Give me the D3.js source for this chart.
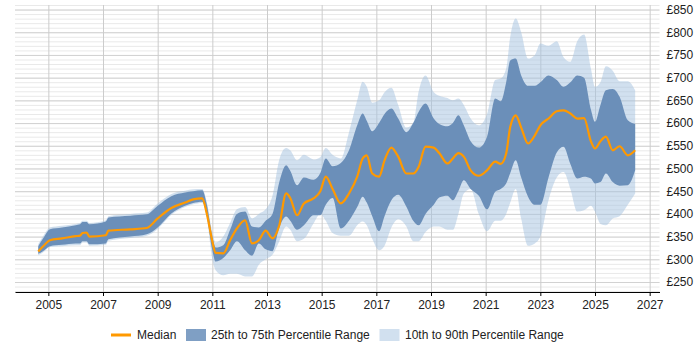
<!DOCTYPE html>
<html>
<head>
  <script src="https://d3js.org/d3.v7.min.js"></script>
  <style>
    body { margin: 0; background: #fff; }
    text { font-family: "Liberation Sans", Arial, sans-serif; }
    .gridlines .domain { display: none; }
    .minor line { stroke: #e9e9e9; }
    .major line { stroke: #d2d2d2; }
    .xgrid line { stroke: #cccccc; }
    .x.axis .domain, .x.axis line { stroke: #000; }
    .axis text { font-size: 12px; fill: #222; }
  </style>
</head>
<body>
  <svg id="chart" width="700" height="350"></svg>
  <script>
    // decimal years
    const dates = [2004.63, 2004.8, 2005.06, 2005.5, 2006.0, 2006.16, 2006.25, 2006.4, 2006.5, 2007.1,
      2007.2, 2008.0, 2008.6, 2009.0, 2009.5, 2010.0, 2010.3, 2010.63, 2010.8, 2011.0, 2011.12,
      2011.4, 2011.65, 2011.9, 2012.2, 2012.45, 2012.7, 2012.95, 2013.2, 2013.45, 2013.7,
      2013.85, 2014.1, 2014.35, 2014.7, 2014.95, 2015.15, 2015.4, 2015.7, 2016.0, 2016.3,
      2016.5, 2016.65, 2016.85, 2017.1, 2017.3, 2017.55, 2017.8, 2018.1, 2018.35, 2018.55,
      2018.8, 2019.1, 2019.3, 2019.6, 2019.8, 2020.0, 2020.2, 2020.45, 2020.75, 2021.05,
      2021.35, 2021.55, 2021.75, 2021.9, 2022.1, 2022.3, 2022.55, 2022.8, 2023.0, 2023.3,
      2023.6, 2023.85, 2024.1, 2024.35, 2024.6, 2024.85, 2025.0, 2025.2, 2025.4, 2025.65,
      2025.9, 2026.2, 2026.47];

    const median = [317, 328, 342, 346, 351, 352, 358, 359, 350, 353,
      363, 366, 369, 390, 413, 425, 432, 434, 400, 340, 314,
      313, 342, 368, 386, 335, 342, 363, 346, 375, 445,
      435, 397, 423, 434, 450, 482, 455, 423, 445, 482,
      522, 529, 489, 482, 518, 546, 526, 489, 489, 504,
      548, 546, 534, 511, 522, 534, 526, 496, 484, 496,
      515, 510, 533, 592, 617, 590, 555, 573, 595, 610,
      626, 628, 621, 610, 611, 560, 544, 560, 570, 540,
      549, 529, 540];

    const p25 = [312, 318, 329, 332, 335, 335, 340, 340, 333, 335,
      344, 350, 355, 370, 401, 418, 424, 427, 395, 320, 295,
      303, 320, 340, 320, 308, 335, 322, 318, 370, 394,
      385, 365, 375, 397, 397, 420, 435, 368, 385, 415,
      438, 425, 395, 362, 395, 430, 442, 416, 385, 375,
      400, 420, 436, 440, 430, 450, 474, 455, 440, 410,
      449, 455, 467, 490, 518, 480, 438, 420, 420, 480,
      535, 548, 510, 478, 482, 478, 467, 470, 489, 470,
      462, 463, 496];

    const p75 = [329, 345, 366, 370, 375, 377, 382, 382, 377, 383,
      392, 396, 399, 418, 439, 447, 450, 452, 420, 350, 326,
      331, 365, 400, 405, 372, 370, 385, 400, 470, 507,
      495, 463, 480, 475, 490, 522, 505, 512, 540, 595,
      621, 605, 582, 600, 620, 632, 610, 580, 600, 625,
      643, 610, 598, 593, 600, 617, 595, 560, 546, 570,
      654, 648, 690, 738, 742, 705, 682, 682, 690, 705,
      695, 680, 690, 705, 700, 630, 603, 640, 672, 675,
      658, 606, 598];

    const p10 = [309, 315, 327, 329, 331, 331, 337, 337, 330, 332,
      341, 347, 352, 367, 398, 415, 421, 424, 390, 300, 276,
      265, 268, 268, 262, 262, 288, 300, 310, 340, 372,
      365, 340, 345, 379, 400, 385, 358, 352, 352, 375,
      383, 375, 345, 320, 330, 370, 388, 372, 340, 340,
      360, 372, 372, 365, 365, 400, 445, 455, 400, 362,
      385, 385, 400, 425, 455, 390, 330, 335, 350, 430,
      480, 492, 455, 405, 408, 418, 405, 378, 375, 390,
      395, 420, 445];

    const p90 = [333, 350, 370, 374, 378, 380, 385, 385, 380, 386,
      395, 400, 403, 423, 444, 451, 454, 455, 425, 360, 337,
      350, 380, 410, 415, 390, 400, 410, 440, 520, 545,
      540, 518, 530, 520, 525, 545, 530, 522, 580, 650,
      691, 680, 645, 650, 668, 678, 640, 590, 600, 670,
      705, 668, 660, 655, 650, 654, 640, 610, 595, 620,
      695, 698, 720, 790, 830, 800, 742, 750, 775, 770,
      780, 745, 735, 780, 795, 720, 680, 690, 725, 715,
      692, 692, 672];

    const yearTicks = [2005, 2007, 2009, 2011, 2013, 2015, 2017, 2019, 2021, 2023, 2025, 2027];
    const payTicks = [250, 300, 350, 400, 450, 500, 550, 600, 650, 700, 750, 800, 850];
    const legendLabels = ["Median", "25th to 75th Percentile Range", "10th to 90th Percentile Range"];

    const rows = dates.map((d, i) => ({
      year: d, median: median[i], p10: p10[i], p25: p25[i], p75: p75[i], p90: p90[i]
    }));

    const margin = { top: 5, right: 40.5, bottom: 58, left: 15 };
    const chartWidth = 700 - margin.left - margin.right;
    const chartHeight = 350 - margin.top - margin.bottom;

    const xScale = d3.scaleLinear().domain([2003.78, 2027.36]).range([0, chartWidth]);
    const yScale = d3.scaleLinear().domain([228, 860]).range([chartHeight, 0]);

    const svg = d3.select("svg#chart");
    const g = svg.append("g").attr("transform", `translate(${margin.left},${margin.top})`);

    // minor + major horizontal gridlines
    g.append("g").attr("class", "gridlines minor")
      .call(d3.axisLeft(yScale).tickValues(d3.range(230, 861, 10)).tickSize(-chartWidth).tickFormat(""));
    g.append("g").attr("class", "gridlines major")
      .call(d3.axisLeft(yScale).tickValues(payTicks).tickSize(-chartWidth).tickFormat(""));
    g.append("g").attr("class", "gridlines xgrid")
      .attr("transform", `translate(0,${chartHeight})`)
      .call(d3.axisBottom(xScale).tickValues(yearTicks).tickSize(-chartHeight).tickFormat(""));

    const outerArea = d3.area()
      .x(d => xScale(d.year))
      .y0(d => yScale(d.p10))
      .y1(d => yScale(d.p90))
      .curve(d3.curveMonotoneX);
    const innerArea = d3.area()
      .x(d => xScale(d.year))
      .y0(d => yScale(d.p25))
      .y1(d => yScale(d.p75))
      .curve(d3.curveMonotoneX);
    const medianLine = d3.line()
      .x(d => xScale(d.year))
      .y(d => yScale(d.median))
      .curve(d3.curveMonotoneX);

    g.append("path").datum(rows)
      .attr("d", outerArea)
      .attr("fill", "#a3c1e0")
      .attr("opacity", 0.5);
    g.append("path").datum(rows)
      .attr("d", innerArea)
      .attr("fill", "#6b8fb9");
    g.append("path").datum(rows)
      .attr("d", medianLine)
      .attr("fill", "none")
      .attr("stroke", "#ff9900")
      .attr("stroke-width", 2.2);

    g.append("g").attr("class", "x axis")
      .attr("transform", `translate(0,${chartHeight})`)
      .call(d3.axisBottom(xScale).tickValues(yearTicks).tickFormat(d3.format("d")).tickSize(4).tickPadding(4).tickSizeOuter(0));

    const rightAxis = g.append("g").attr("class", "y axis")
      .attr("transform", `translate(${chartWidth},0)`)
      .call(d3.axisRight(yScale).tickValues(payTicks).tickFormat(d => "£" + d).tickSize(0).tickPadding(7));
    rightAxis.select(".domain").remove();

    // legend
    const legend = svg.append("g").attr("transform", "translate(0,335)");
    legend.append("line")
      .attr("x1", 111).attr("x2", 131).attr("y1", 0).attr("y2", 0)
      .attr("stroke", "#ff9900").attr("stroke-width", 3);
    legend.append("rect").attr("x", 186).attr("y", -6).attr("width", 20).attr("height", 12)
      .attr("fill", "#7f9fc4");
    legend.append("rect").attr("x", 379.5).attr("y", -6).attr("width", 20).attr("height", 12)
      .attr("fill", "#d1e0ef");
    [137, 211, 405].forEach((x, i) => {
      legend.append("text")
        .attr("x", x).attr("y", 0).attr("dy", "0.35em")
        .style("font-size", "12px").style("fill", "#222")
        .text(legendLabels[i]);
    });
  </script>
</body>
</html>
